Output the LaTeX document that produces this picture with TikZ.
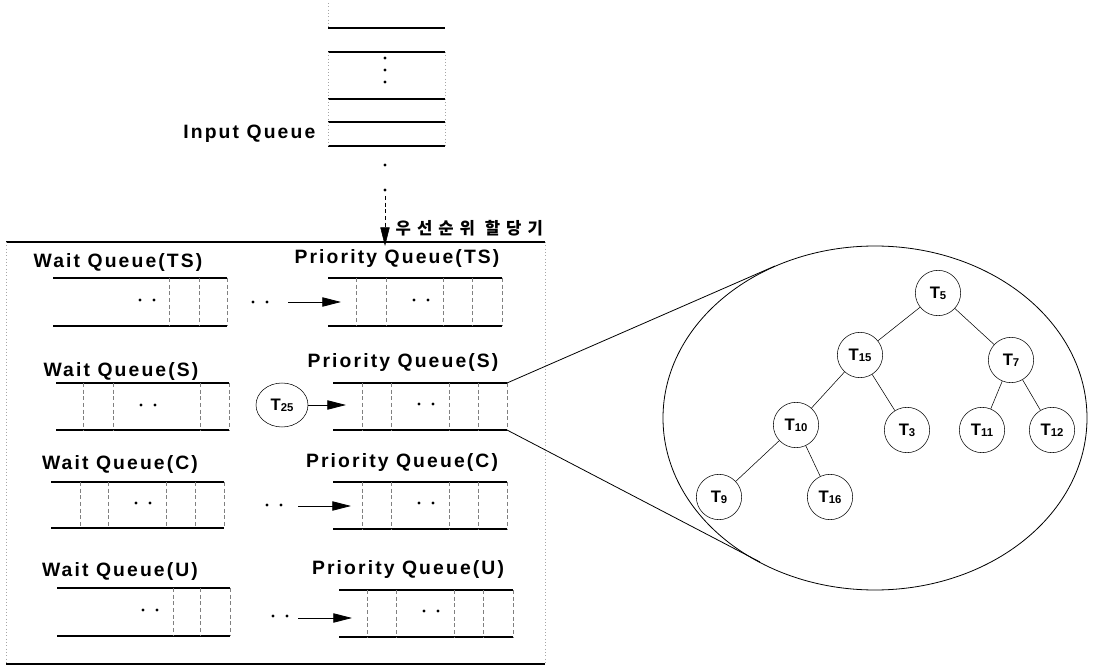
\documentclass[tikz,border=0pt]{standalone}
\usepackage{fontspec}
\setmainfont{Liberation Sans}
\newfontfamily\lblfont[LetterSpace=11]{Liberation Sans}
\newfontfamily\hangul[LetterSpace=36]{Noto Sans CJK KR}
\usetikzlibrary{arrows.meta,shapes.geometric,positioning}

\newcommand{\tsk}[1]{T\raisebox{-0.8pt}{\fontsize{8.5}{8.5}\selectfont #1}}
% queue strip: left x, right x, top y, bottom y, dividers
\newcommand{\qbox}[5]{%
	\draw[qedge] (#1,#3) -- (#2,#3) (#1,#4) -- (#2,#4);
	\draw[qdiv] (#2,#3) -- (#2,#4);
	\foreach \d in {#5} \draw[qdiv] (\d,#3) -- (\d,#4);
}
\newcommand{\twodots}[2]{\fill (#1,#2) circle[radius=1.7] (#1+14,#2) circle[radius=1.7];}

\begin{document}
\begin{tikzpicture}[x=0.75pt,y=-0.75pt,
	qedge/.style={line width=0.9pt},
	qdiv/.style={gray,densely dashed,line width=0.45pt},
	side/.style={gray!70,dotted,line width=0.5pt},
	flow/.style={-{Triangle[length=14pt,width=7pt]},line width=0.6pt},
	lbl/.style={font=\fontsize{14.5}{16}\selectfont\lblfont\bfseries},
	task/.style={circle,draw,minimum size=34pt,inner sep=0pt,font=\fontsize{12.5}{12.5}\selectfont\bfseries}]
	\useasboundingbox (0,0) rectangle (1093,666);

	% input queue
	\draw[side] (328,3) -- (328,28);
	\draw[qedge] (328,28) -- (445,28);
	\draw[qedge] (328,52) -- (445,52) (328,99) -- (445,99) (328,122) -- (445,122) (328,146) -- (445,146);
	\draw[side] (328,52) -- (328,146) (445,52) -- (445,146);
	\foreach \y in {58,70,82,165,190} \fill (385,\y) circle[radius=1.7];
	\node[lbl,anchor=east] (inq) at (320,134) {Input Queue};
	\coordinate (inq-out) at (385,196);
	\coordinate (alloc-in) at (385,246);
	\draw[flow,densely dashed,line width=0.4pt] (inq-out) -- (alloc-in);
	\node[anchor=west,font=\fontsize{12.5}{12.5}\selectfont\hangul\bfseries] (alloc) at (391,228) {우선순위 할당기};

	% allocator box
	\draw[qedge] (6,242) -- (545,242) (6,664) -- (545,664);
	\draw[side] (6,242) -- (6,664) (545,242) -- (545,664);

	% wait queues
	\node[lbl] (wts) at (118,263) {Wait Queue(TS)};
	\node[lbl] (ws) at (121,372) {Wait Queue(S)};
	\node[lbl] (wc) at (120,465) {Wait Queue(C)};
	\node[lbl] (wu) at (120,572) {Wait Queue(U)};
	\qbox{53}{227}{278}{326}{169,199}
	\qbox{56}{229}{383}{430}{83,113,200}
	\qbox{51}{224}{482}{528}{80,108,166,195}
	\qbox{57}{230}{588}{636}{173,200}
	\twodots{140}{300}
	\twodots{141}{405}
	\twodots{136}{503}
	\twodots{143}{610}

	% priority queues
	\node[lbl] (pts) at (397,259) {Priority Queue(TS)};
	\node[lbl] (ps) at (403,363) {Priority Queue(S)};
	\node[lbl] (pc) at (402,463) {Priority Queue(C)};
	\node[lbl] (pu) at (408,570) {Priority Queue(U)};
	\qbox{328}{502}{278}{326}{356,386,443,472}
	\qbox{333}{507}{383}{430}{362,391,449,478}
	\qbox{333}{507}{482}{529}{362,391,449,478}
	\qbox{339}{513}{590}{637}{367,396,454,483}
	\twodots{414}{300}
	\twodots{419}{404}
	\twodots{419}{503}
	\twodots{424}{611}

	% moves between queues
	\twodots{253}{302}
	\twodots{267}{505}
	\twodots{273}{616}
	\coordinate (ts-a) at (288,302);
	\coordinate (ts-b) at (341,302);
	\coordinate (c-a) at (298,506);
	\coordinate (c-b) at (351,506);
	\coordinate (u-a) at (298,618);
	\coordinate (u-b) at (352,618);
	\coordinate (s-b) at (346,405);
	\node[draw,ellipse,minimum width=39pt,minimum height=33pt,inner sep=0pt,font=\fontsize{12.5}{12.5}\selectfont\bfseries] (t25) at (282,405) {\tsk{25}};
	\draw[flow] (ts-a) -- (ts-b);
	\draw[flow] (t25) -- (s-b);
	\draw[flow] (c-a) -- (c-b);
	\draw[flow] (u-a) -- (u-b);

	% heap of Priority Queue(S)
	\draw[line width=0.6pt] (875,418) ellipse [x radius=212,y radius=172];
	\coordinate (ps-ne) at (507,383);
	\coordinate (ps-se) at (507,430);
	\coordinate (zoom-top) at (775,266);
	\coordinate (zoom-bot) at (760,562);
	\draw[line width=0.6pt] (ps-ne) -- (zoom-top) (ps-se) -- (zoom-bot);

	\node[task] (t5) at (938,293) {\tsk{5}};
	\node[task] (t15) at (860,355) {\tsk{15}};
	\node[task] (t7) at (1011,360) {\tsk{7}};
	\node[task] (t10) at (796,425) {\tsk{10}};
	\node[task] (t3) at (907,430) {\tsk{3}};
	\node[task] (t11) at (982,430) {\tsk{11}};
	\node[task] (t12) at (1052,430) {\tsk{12}};
	\node[task] (t9) at (719,497) {\tsk{9}};
	\node[task] (t16) at (830,497) {\tsk{16}};

	\draw (t5) -- (t15);
	\draw (t5) -- (t7);
	\draw (t15) -- (t10);
	\draw (t15) -- (t3);
	\draw (t7) -- (t11);
	\draw (t7) -- (t12);
	\draw (t10) -- (t9);
	\draw (t10) -- (t16);
\end{tikzpicture}
\end{document}
